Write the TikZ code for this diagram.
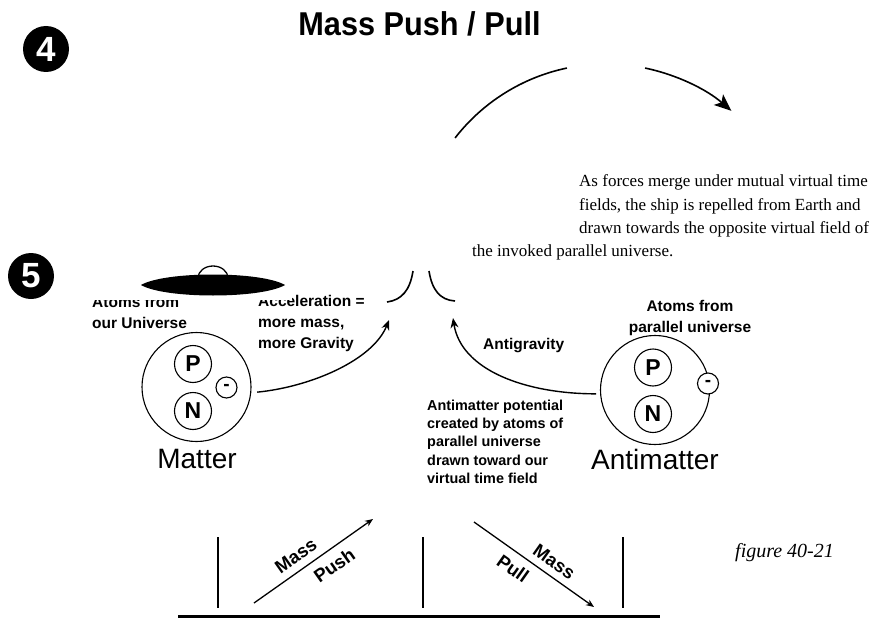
\documentclass[tikz,border=0pt]{standalone}
\usepackage{fontspec}
\setmainfont{Liberation Serif}
\setsansfont{Liberation Sans}
\usetikzlibrary{arrows.meta,calc}
\begin{document}
\begin{tikzpicture}[x=1pt,y=-1pt,
  every node/.style={inner sep=0pt},
  heading/.style={font=\sffamily\bfseries\fontsize{33}{33}\selectfont, xscale=0.93},
  badge/.style={circle, fill=black, text=white, minimum size=46pt,
    font=\sffamily\bfseries\fontsize{35}{35}\selectfont},
  caption/.style={font=\sffamily\bfseries\fontsize{15.5}{21}\selectfont, align=left},
  smallcaption/.style={font=\sffamily\bfseries\fontsize{14.4}{18.4}\selectfont, align=left},
  slopecaption/.style={font=\sffamily\bfseries\fontsize{18.5}{18.5}\selectfont, sloped},
  bigname/.style={font=\sffamily\fontsize{28}{28}\selectfont},
  shell/.style={circle, draw, line width=1.1pt, minimum size=109pt},
  nucleon/.style={circle, draw, line width=1.1pt, minimum size=37pt,
    font=\sffamily\bfseries\fontsize{23}{23}\selectfont},
  electron/.style={circle, draw, line width=1.1pt, minimum size=21pt, fill=white,
    font=\sffamily\bfseries\fontsize{19}{19}\selectfont},
  prose/.style={font=\fontsize{17}{23.5}\selectfont, align=left},
  force/.style={line width=1.4pt, -{Stealth[length=10pt, width=8pt]}},
  shove/.style={line width=1.3pt, -{Stealth[length=8pt, width=6.5pt]}},
  swing/.style={line width=1.6pt},
  post/.style={line width=1.8pt},
]
\useasboundingbox (0,0) rectangle (873,618);

% heading and step badges
\node[heading, anchor=base] (title) at (419.5,36) {Mass Push / Pull};
\node[badge] (step4) at (46,49) {4};
\node[badge] (step5) at (31,276) {5};

% swing of the ship over the top
\coordinate (pivot) at (606,255);
\draw[swing] ($(pivot)+(-142.2:191)$) arc[start angle=-142.2, end angle=-101.8, radius=191];
\draw[swing, -{Stealth[length=17pt, width=14pt, inset=4pt]}]
  ($(pivot)+(-78.2:191)$) arc[start angle=-78.2, end angle=-49, radius=191];

% explanatory paragraph
\node[prose, anchor=north west] (story) at (579,174.4)
  {As forces merge under mutual virtual time\\fields, the ship is repelled from Earth and\\drawn towards the opposite virtual field of};
\node[prose, anchor=base west] (storyend) at (472,256.5) {the invoked parallel universe.};

% labels on the left, partly hidden behind the ship
\node[caption, anchor=north west] (ours) at (92,295.7) {Atoms from\\our Universe};
\node[caption, anchor=north west] (accel) at (258,294.7) {Acceleration =\\more mass,\\more Gravity};
\fill[white] (85,276) rectangle (292,300);

% the ship
\draw[line width=1.3pt, fill=white] (198,278) arc[start angle=180, end angle=360, x radius=15, y radius=12];
\fill (141,285) .. controls (165,271) and (261,271) .. (285,285)
                .. controls (261,299) and (165,299) .. cycle;

% two converging field lines
\coordinate (mergeL1) at (387,302);
\coordinate (mergeL2) at (413,271);
\coordinate (mergeR1) at (429,271);
\coordinate (mergeR2) at (455,301);
\draw[swing] (mergeL1) .. controls (402,300) and (410,290) .. (mergeL2);
\draw[swing] (mergeR1) .. controls (432,290) and (440,300) .. (mergeR2);

% matter atom
\node[shell] (matom) at (196.5,387) {};
\node[nucleon] (mp) at (193,364) {P};
\node[nucleon] (mn) at (193,411) {N};
\node[electron] (me) at (226.5,387.5) {-};
\node[bigname] (matter) at (197,459) {Matter};

% antimatter atom
\node[caption, align=center, anchor=north] (theirs) at (690,299.7) {Atoms from\\parallel universe};
\node[shell] (aatom) at (655,390) {};
\node[nucleon] (ap) at (653,367.5) {P};
\node[nucleon] (an) at (653,414) {N};
\node[electron] (ae) at (708,383.5) {-};
\node[bigname] (antimatter) at (655,459) {Antimatter};

% forces towards the merge point
\coordinate (accelTip) at (389,320);
\coordinate (antiTip) at (453,318);
\draw[force, shorten <=6pt] (matom.-6) .. controls +(60,-6) and +(-16,40) .. (accelTip);
\draw[force, shorten <=4pt] (aatom.184) .. controls +(-75,0) and +(8,52) .. (antiTip);
\node[caption, anchor=base west] (antigrav) at (483,349) {Antigravity};
\node[smallcaption, anchor=north west] (potential) at (427,399.5)
  {Antimatter potential\\created by atoms of\\parallel universe\\drawn toward our\\virtual time field};

% push / pull diagram at the bottom
\coordinate (floorL) at (178,616);
\coordinate (floorR) at (660,616);
\draw[line width=3pt] (floorL) -- (floorR);
\coordinate (postA1) at (218,537); \coordinate (postA2) at (218,608);
\coordinate (postB1) at (423,537); \coordinate (postB2) at (423,608);
\coordinate (postC1) at (623,537); \coordinate (postC2) at (623,608);
\draw[post] (postA1) -- (postA2);
\draw[post] (postB1) -- (postB2);
\draw[post] (postC1) -- (postC2);
\coordinate (pushTail) at (254,603);
\coordinate (pushTip) at (373,519);
\coordinate (pullTail) at (474,522);
\coordinate (pullTip) at (594,607);
\draw[shove] (pushTail) -- node[slopecaption, above=7pt, pos=0.42] (pushA) {Mass}
                          node[slopecaption, below=8pt, pos=0.6] (pushB) {Push} (pushTip);
\draw[shove] (pullTail) -- node[slopecaption, above=7pt, pos=0.6] (pullA) {Mass}
                          node[slopecaption, below=8pt, pos=0.4] (pullB) {Pull} (pullTip);

\node[font=\itshape\fontsize{20}{20}\selectfont, anchor=base west] (fig) at (735,557) {figure 40-21};
\end{tikzpicture}
\end{document}
